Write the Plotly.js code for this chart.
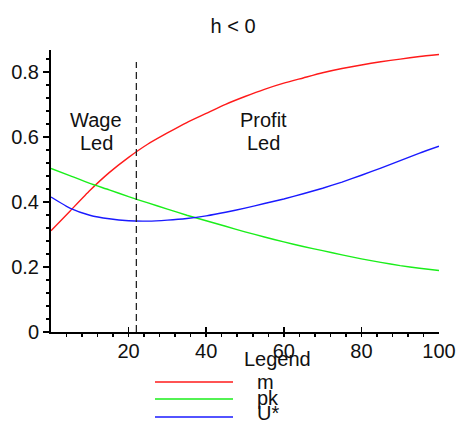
<!DOCTYPE html>
<html>
<head>
<meta charset="utf-8">
<script src="https://cdn.plot.ly/plotly-3.0.1.min.js"></script>
<style>html,body{margin:0;padding:0;background:#fff;}#chart{width:457px;height:423px;}</style>
</head>
<body>
<div id="chart"></div>
<script>
// ---- data ----
var xValues = [0,5,10,15,20,25,30,35,40,45,50,55,60,65,70,75,80,85,90,95,100];
var mValues = [0.311,0.373,0.435,0.490,0.537,0.578,0.612,0.644,0.672,0.700,0.724,0.746,0.765,0.781,0.797,0.810,0.821,0.831,0.839,0.847,0.853];
var pkValues = [0.503,0.480,0.457,0.437,0.416,0.397,0.378,0.359,0.342,0.325,0.308,0.292,0.277,0.263,0.250,0.237,0.225,0.214,0.204,0.196,0.189];
var uValues = [0.415,0.380,0.359,0.348,0.342,0.341,0.344,0.349,0.357,0.368,0.381,0.395,0.409,0.425,0.442,0.461,0.482,0.504,0.527,0.550,0.571];
var seriesNames = ["m","pk","U*"];
var seriesColors = ["#ff1a1a","#1aee1a","#1a1aff"];
var boundaryX = 22;
var boundaryTop = 0.83;
var xTickVals = [20,40,60,80,100];
var yTickVals = [0,0.2,0.4,0.6,0.8];
var yTickText = ["0","0.2","0.4","0.6","0.8"];
var titleText = "h &lt; 0";
var regionLabels = [["Wage","Led"],["Profit","Led"]];
var regionX = [11.7, 54.7];

// ---- layout helpers (pixel -> paper) ----
var M = {l:51, r:18, t:50, b:91};
var W = 457, H = 423;
var pw = W - M.l - M.r, ph = H - M.t - M.b;
function px2p(px){ return (px - M.l)/pw; }
function py2p(py){ return (H - M.b - py)/ph; }

var font = "Liberation Sans, Arial, sans-serif";
var ys = [mValues, pkValues, uValues];
var traces = ys.map(function(v,i){
  return {x:xValues, y:v, type:'scatter', mode:'lines', name:seriesNames[i],
          line:{color:seriesColors[i], width:1.4, shape:'spline', smoothing:0.5}, showlegend:false, hoverinfo:'skip'};
});

var shapes = [{type:'line', xref:'x', yref:'y', x0:boundaryX, x1:boundaryX, y0:0, y1:boundaryTop,
  line:{color:'#222', width:1.3, dash:'7px,4px'}}];
var annotations = [];
regionLabels.forEach(function(lines,i){
  lines.forEach(function(t,j){
    annotations.push({xref:'x', yref:'paper', x:regionX[i], y:py2p(120 + j*23), text:t, showarrow:false,
      xanchor:'center', yanchor:'middle', font:{family:font, size:20, color:'#111'}});
  });
});
// legend
annotations.push({xref:'paper', yref:'paper', x:px2p(277), y:py2p(359), text:'Legend', showarrow:false,
  xanchor:'center', yanchor:'middle', font:{family:font, size:20, color:'#111'}});
var legY = [382, 399, 417];
var legTextY = [382, 398, 413];
seriesNames.forEach(function(n,i){
  shapes.push({type:'line', xref:'paper', yref:'paper', x0:px2p(155), x1:px2p(233), y0:py2p(legY[i]), y1:py2p(legY[i]),
    line:{color:seriesColors[i], width:1.5}});
  annotations.push({xref:'paper', yref:'paper', x:px2p(255), y:py2p(legTextY[i]), text:n, showarrow:false,
    xanchor:'left', yanchor:'middle', font:{family:font, size:20, color:'#111'}});
});

var layout = {
  width:W, height:H, margin:M, paper_bgcolor:'#fff', plot_bgcolor:'#fff', showlegend:false,
  title:{text:titleText, x:0.51, xref:'container', xanchor:'center', y:1-26/H, yref:'container', yanchor:'middle',
    font:{family:font, size:20, color:'#111'}},
  xaxis:{range:[0,100], tickvals:xTickVals, ticktext:xTickVals.map(String), showgrid:false, zeroline:false,
    showline:true, linecolor:'#000', linewidth:2, ticks:'inside', ticklen:5, tickwidth:1.5, tickcolor:'#000',
    minor:{dtick:4, ticks:'outside', ticklen:3, tickwidth:1.5, tickcolor:'#000'},
    tickfont:{family:font, size:20, color:'#111'}, fixedrange:true},
  yaxis:{range:[0,0.867], tickvals:yTickVals, ticktext:yTickText, showgrid:false, zeroline:false,
    showline:true, linecolor:'#000', linewidth:2, ticks:'outside', ticklen:6, tickwidth:1.5, tickcolor:'#000',
    minor:{dtick:0.04, ticks:'outside', ticklen:3, tickwidth:1.5, tickcolor:'#000'},
    tickfont:{family:font, size:20, color:'#111'}, fixedrange:true},
  shapes:shapes, annotations:annotations
};
Plotly.newPlot('chart', traces, layout, {staticPlot:true, displayModeBar:false});
</script>
</body>
</html>
